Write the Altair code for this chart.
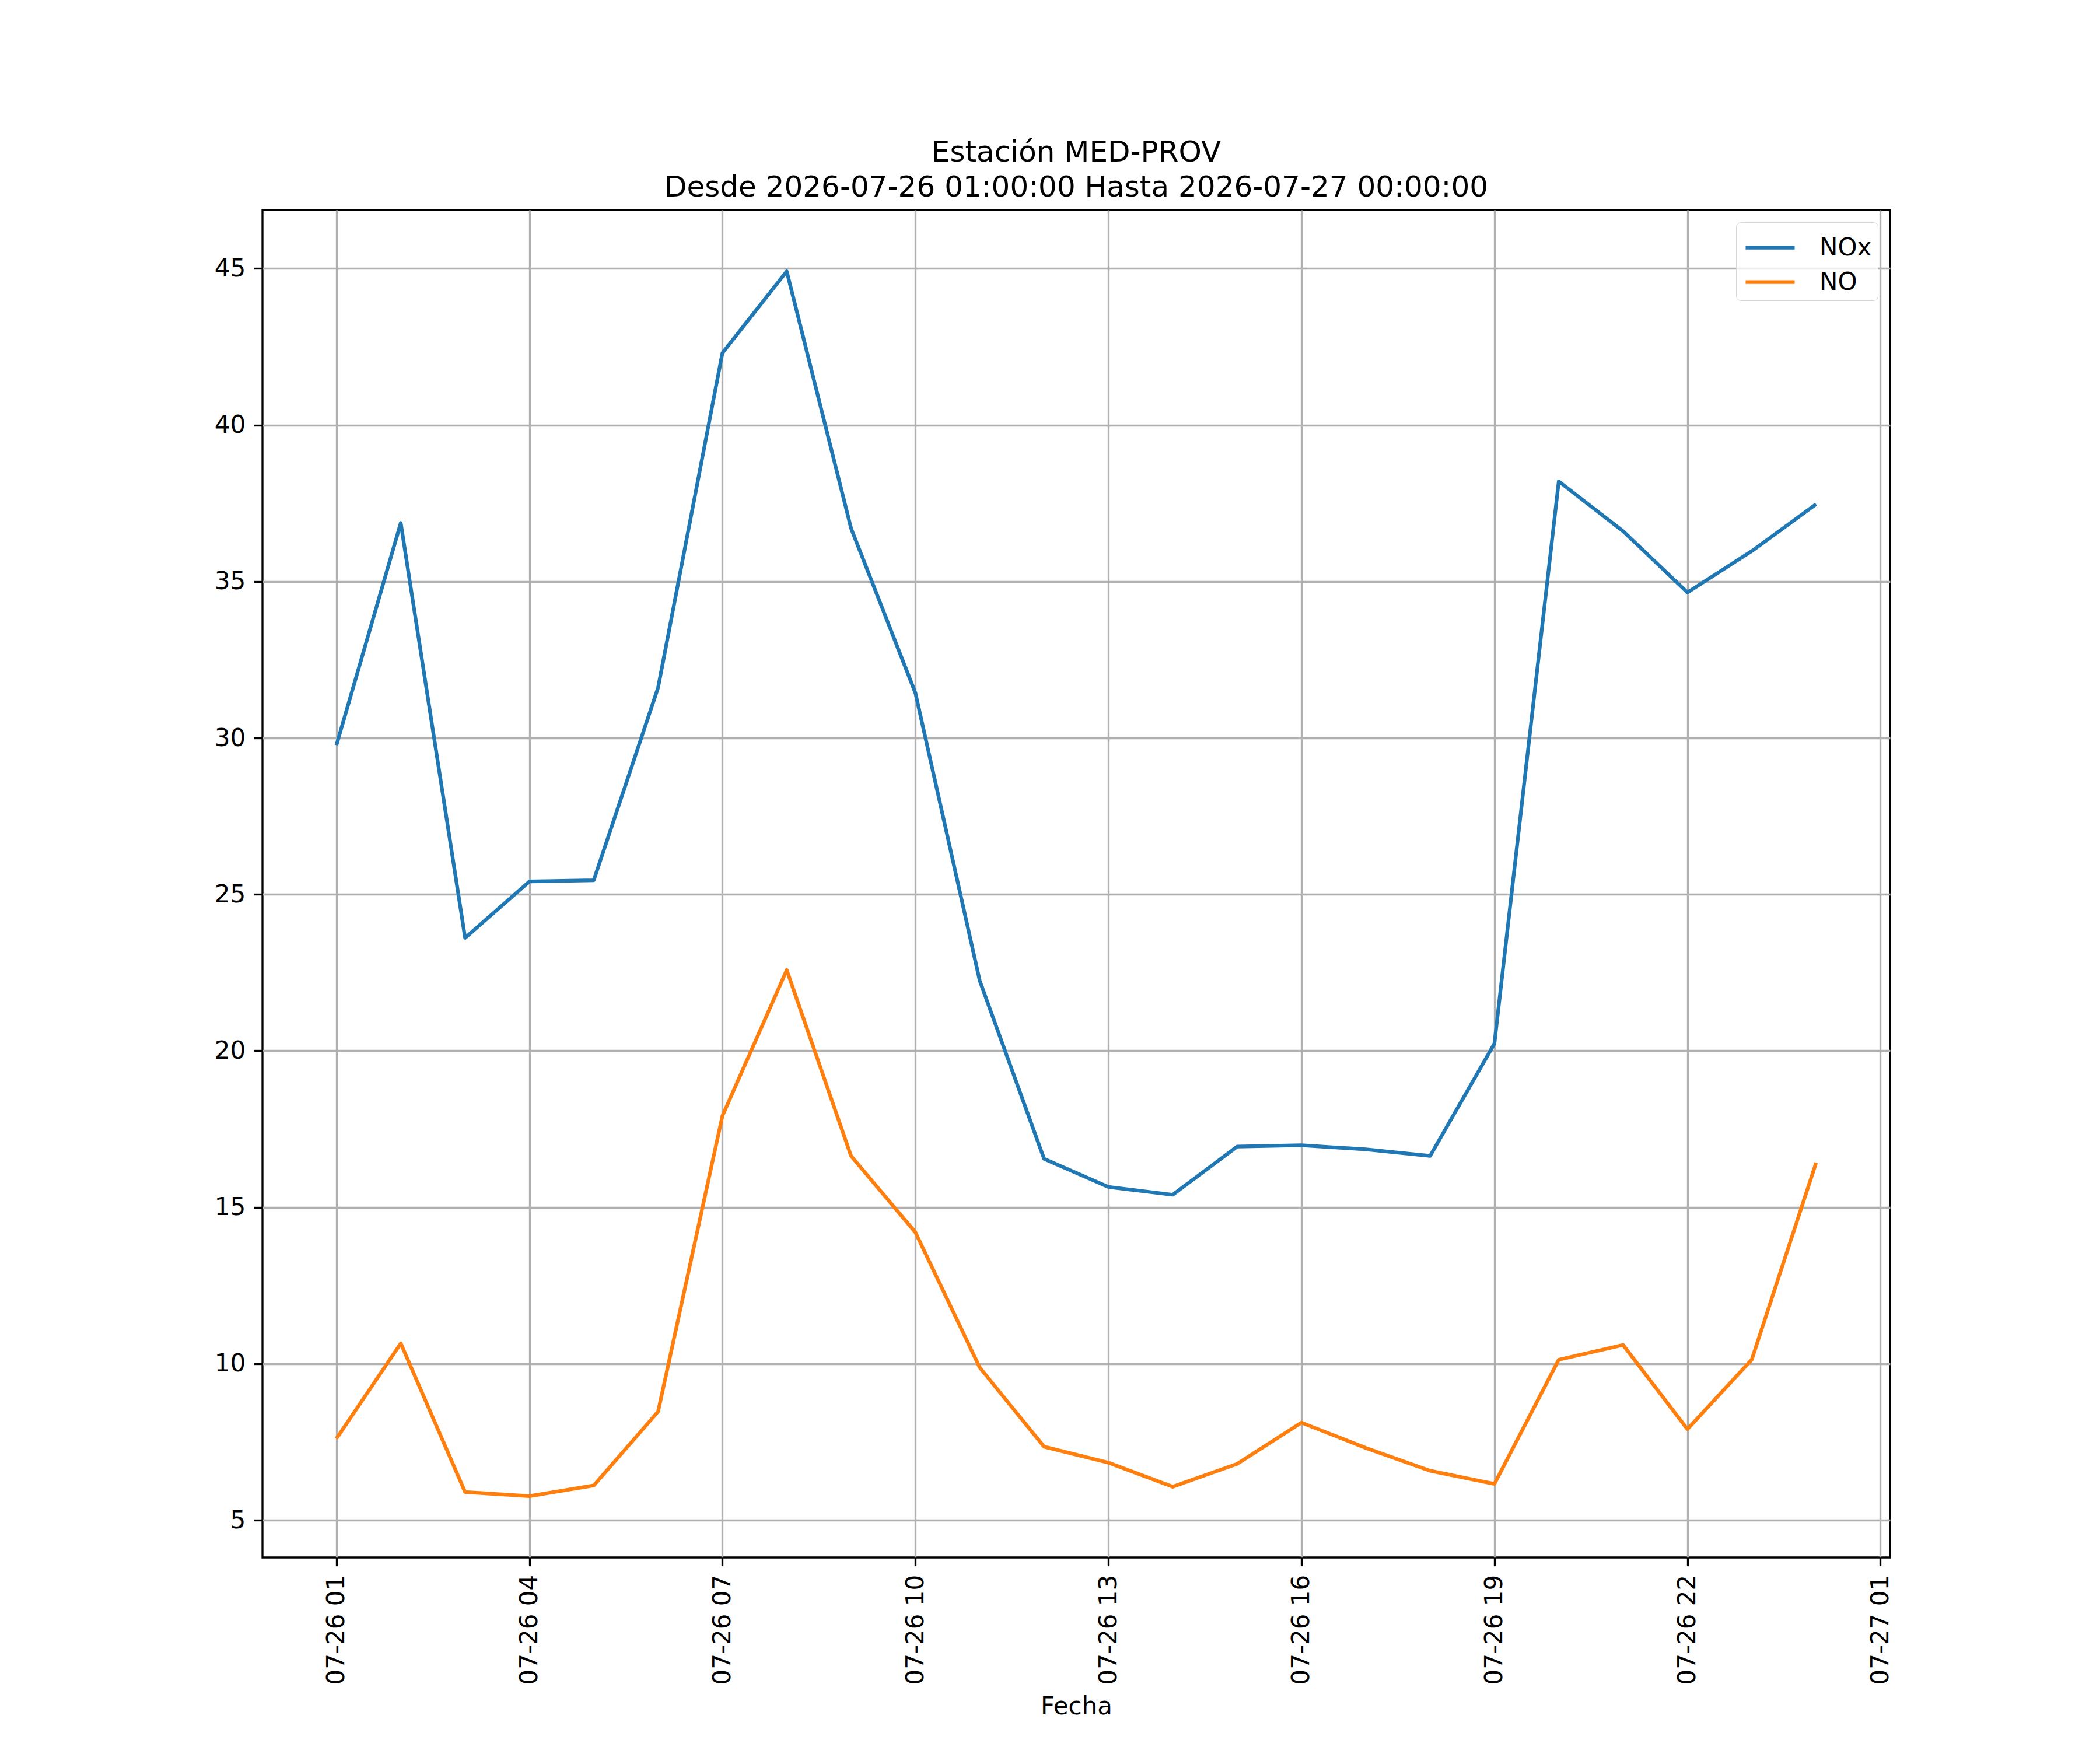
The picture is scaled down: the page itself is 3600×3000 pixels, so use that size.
import altair as alt
import pandas as pd

horas = [
    "2026-07-26T01:00:00", "2026-07-26T02:00:00", "2026-07-26T03:00:00", "2026-07-26T04:00:00",
    "2026-07-26T05:00:00", "2026-07-26T06:00:00", "2026-07-26T07:00:00", "2026-07-26T08:00:00",
    "2026-07-26T09:00:00", "2026-07-26T10:00:00", "2026-07-26T11:00:00", "2026-07-26T12:00:00",
    "2026-07-26T13:00:00", "2026-07-26T14:00:00", "2026-07-26T15:00:00", "2026-07-26T16:00:00",
    "2026-07-26T17:00:00", "2026-07-26T18:00:00", "2026-07-26T19:00:00", "2026-07-26T20:00:00",
    "2026-07-26T21:00:00", "2026-07-26T22:00:00", "2026-07-26T23:00:00", "2026-07-27T00:00:00",
]
nox = [29.77, 36.87, 23.61, 25.41, 25.45, 31.61, 42.30, 44.91, 36.70, 31.44, 22.24, 16.55,
       15.65, 15.40, 16.94, 16.98, 16.85, 16.64, 20.23, 38.20, 36.61, 34.65, 35.97, 37.47]
no = [7.61, 10.65, 5.90, 5.77, 6.11, 8.47, 17.92, 22.58, 16.64, 14.20, 9.88, 7.35,
      6.84, 6.07, 6.80, 8.12, 7.31, 6.58, 6.16, 10.13, 10.60, 7.91, 10.13, 16.42]
series = ["NOx", "NO"]
colors = ["#1f77b4", "#ff7f0e"]
tick_hours = [(26, 1), (26, 4), (26, 7), (26, 10), (26, 13), (26, 16), (26, 19), (26, 22), (27, 1)]
y_ticks = [5, 10, 15, 20, 25, 30, 35, 40, 45]
title_lines = ["Estación MED-PROV", "Desde 2026-07-26 01:00:00 Hasta 2026-07-27 00:00:00"]

df = pd.concat([
    pd.DataFrame({"Fecha": horas, "valor": nox, "serie": "NOx"}),
    pd.DataFrame({"Fecha": horas, "valor": no, "serie": "NO"}),
])

FONT = "DejaVu Sans"
LW = 3.33
TICK = 14.6

x_values = [alt.DateTime(year=2026, month=7, date=d, hours=h) for d, h in tick_hours]

chart = alt.Chart(df).mark_line(strokeWidth=6.25, strokeJoin="round").encode(
    x=alt.X(
        "Fecha:T",
        scale=alt.Scale(domain=[
            alt.DateTime(year=2026, month=7, date=25, hours=23, minutes=51),
            alt.DateTime(year=2026, month=7, date=27, hours=1, minutes=9),
        ]),
        axis=alt.Axis(
            values=x_values, format="%m-%d %H", labelAngle=270, title="Fecha",
            labelFontSize=42, labelFont=FONT, labelColor="black", labelPadding=TICK,
            labelLimit=600,
            tickSize=TICK, tickWidth=LW, tickColor="black", domain=False,
            grid=True, gridColor="#b0b0b0", gridWidth=LW,
            titleFontSize=42, titleFont=FONT, titleFontWeight="normal", titleColor="black",
            titlePadding=35, labelFlush=False, labelOverlap=False,
        ),
    ),
    y=alt.Y(
        "valor:Q",
        scale=alt.Scale(domain=[3.81, 46.87], nice=False, zero=False),
        axis=alt.Axis(
            values=y_ticks, title=None, labelFontSize=42, labelFont=FONT, labelColor="black",
            labelPadding=TICK, tickSize=TICK, tickWidth=LW, tickColor="black", domain=False,
            grid=True, gridColor="#b0b0b0", gridWidth=LW, labelFlush=False,
        ),
    ),
    color=alt.Color(
        "serie:N",
        scale=alt.Scale(domain=series, range=colors),
        sort=series,
        legend=alt.Legend(
            title=None, orient="top-right", offset=21, symbolType="M-1.4,0H1.4",
            symbolSize=3600, symbolStrokeWidth=6.25, labelFontSize=42, labelFont=FONT,
            labelColor="black", labelOffset=51, symbolOffset=15, padding=10, rowPadding=4,
            strokeColor="#d6d6d6", fillColor="rgba(255,255,255,0.8)", cornerRadius=8,
        ),
    ),
    detail="serie:N",
).properties(
    width=2790,
    height=2310,
    background="white",
    title=alt.TitleParams(
        text=title_lines, fontSize=50, font=FONT, fontWeight="normal", color="black",
        anchor="middle", frame="group", lineHeight=60, offset=13,
    ),
    autosize=alt.AutoSizeParams(type="none"),
    padding={"left": 442, "top": 352, "right": 352, "bottom": 322},
).configure_view(
    stroke="black", strokeWidth=LW,
)

chart.save("out.html", embed_options={"renderer": "svg", "actions": False})
